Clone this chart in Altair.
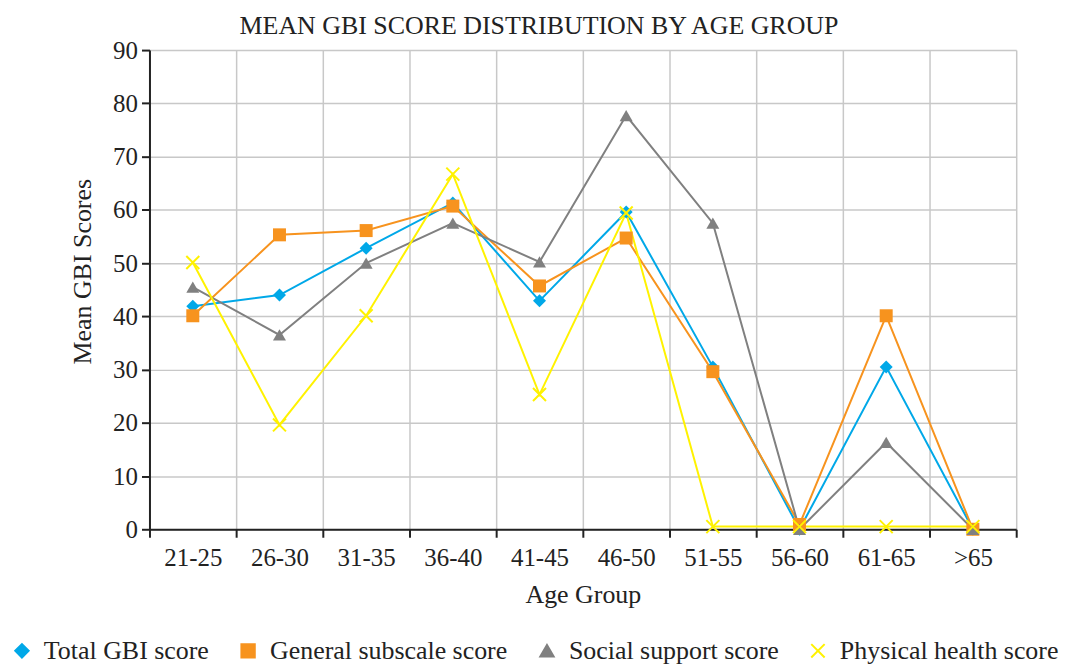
import altair as alt
import pandas as pd

age_groups = ["21-25", "26-30", "31-35", "36-40", "41-45", "46-50", "51-55", "56-60", "61-65", ">65"]
series_names = ["Total GBI score", "General subscale score", "Social support score", "Physical health score"]
total = [41.9, 44.0, 52.8, 61.3, 42.9, 59.6, 30.5, 0.0, 30.5, 0.0]
general = [40.1, 55.3, 56.1, 60.7, 45.7, 54.7, 29.6, 0.9, 40.1, 0.0]
social = [45.5, 36.5, 50.0, 57.5, 50.2, 77.7, 57.5, 0.0, 16.3, 0.0]
physical = [50.1, 19.6, 40.1, 66.7, 25.3, 59.4, 0.5, 0.5, 0.5, 0.5]

colors = ["#00a8e8", "#f7931e", "#808080", "#fff200"]
shapes = ["diamond", "square", "triangle-up", "M-1,-1L1,1M-1,1L1,-1"]

rows = []
for name, vals in zip(series_names, [total, general, social, physical]):
    for g, v in zip(age_groups, vals):
        rows.append({"age": g, "score": v, "series": name})
df = pd.DataFrame(rows)

FONT = "Liberation Serif"

x_enc = alt.X(
    "age:N", sort=age_groups,
    scale=alt.Scale(type="band", paddingInner=0, paddingOuter=0),
    axis=alt.Axis(title="Age Group", tickBand="extent", labelAngle=0, grid=True,
                  labelPadding=8, titlePadding=12),
)
y_enc = alt.Y(
    "score:Q", scale=alt.Scale(domain=[0, 90], nice=False),
    axis=alt.Axis(title="Mean GBI Scores", values=list(range(0, 91, 10)),
                  labelPadding=4, titlePadding=17, titleY=222),
)

leg = alt.Legend(title=None, orient="none", legendX=-141, legendY=590,
                 direction="horizontal")

base = alt.Chart(df).encode(
    x=x_enc, y=y_enc,
    color=alt.Color("series:N", scale=alt.Scale(domain=series_names, range=colors),
                    legend=leg),
    shape=alt.Shape("series:N", scale=alt.Scale(domain=series_names, range=shapes),
                    legend=leg),
)

lines = base.mark_line(strokeWidth=2)
points_filled = base.mark_point(filled=True, size=170, opacity=1)
points_cross = base.transform_filter(
    alt.datum.series == series_names[3]
).mark_point(filled=False, size=170, strokeWidth=2, opacity=1)

chart = (
    alt.layer(lines, points_filled, points_cross)
    .properties(
        width=870, height=481,
        autosize=alt.AutoSizeParams(type="none"),
        padding={"left": 142, "top": 41, "right": 54, "bottom": 136},
        title=alt.TitleParams("MEAN GBI SCORE DISTRIBUTION BY AGE GROUP", font=FONT,
                              fontSize=26, fontWeight="normal", color="#222222",
                              dx=-44, offset=-1),
    )
    .configure_view(stroke=None)
    .configure_axis(
        labelFont=FONT, titleFont=FONT, labelFontSize=25, titleFontSize=26,
        titleFontWeight="normal", labelColor="#222222", titleColor="#222222",
        gridColor="#c8c8c8", gridWidth=1.5, domainColor="#222222", domainWidth=2,
        tickColor="#222222", tickWidth=2, tickSize=8,
    )
    .configure_legend(
        labelFont=FONT, labelFontSize=26, labelColor="#222222",
        symbolSize=180, symbolStrokeWidth=2, columnPadding=26, labelOffset=9,
        labelLimit=400,
    )
)

chart.save("out.html", embed_options={"renderer": "svg", "actions": False})
